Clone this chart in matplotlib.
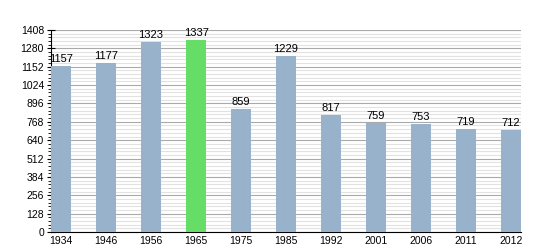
import matplotlib
matplotlib.use("Agg")
import matplotlib.pyplot as plt
from matplotlib.ticker import MultipleLocator

years = ["1934", "1946", "1956", "1965", "1975", "1985", "1992", "2001", "2006", "2011", "2012"]
population = [1157, 1177, 1323, 1337, 859, 1229, 817, 759, 753, 719, 712]
highlight = "1965"

plt.rcParams["font.family"] = ["Liberation Sans", "DejaVu Sans"]

fig = plt.figure(figsize=(5.5, 2.5), dpi=100)
ax = fig.add_axes([51 / 550, 1 - 232 / 250, 470 / 550, 202 / 250])

colors = ["#66dd66" if y == highlight else "#98b2cc" for y in years]
x = range(len(years))
ax.bar(x, population, width=0.45, color=colors, zorder=3)

for xi, v in zip(x, population):
    ax.text(xi, v + 12, str(v), ha="center", va="bottom", fontsize=8, zorder=4)

ax.set_xlim(-0.225, len(years) - 1 + 0.225)
ax.set_ylim(0, 1408)
ax.set_xticks(list(x))
ax.set_xticklabels(years)
ax.yaxis.set_major_locator(MultipleLocator(128))
ax.yaxis.set_minor_locator(MultipleLocator(25.6))

ax.grid(axis="y", which="major", color="#aaaaaa", linewidth=0.8, zorder=1)
ax.grid(axis="y", which="minor", color="#e2e2e2", linewidth=0.8, zorder=0)

for s in ["top", "right"]:
    ax.spines[s].set_visible(False)

ax.tick_params(axis="x", length=0, labelsize=7.5, pad=3)
ax.tick_params(axis="y", which="major", direction="inout", length=6, labelsize=7.5, pad=2)
ax.tick_params(axis="y", which="minor", direction="out", length=2)

fig.savefig("out.png", dpi=100)
